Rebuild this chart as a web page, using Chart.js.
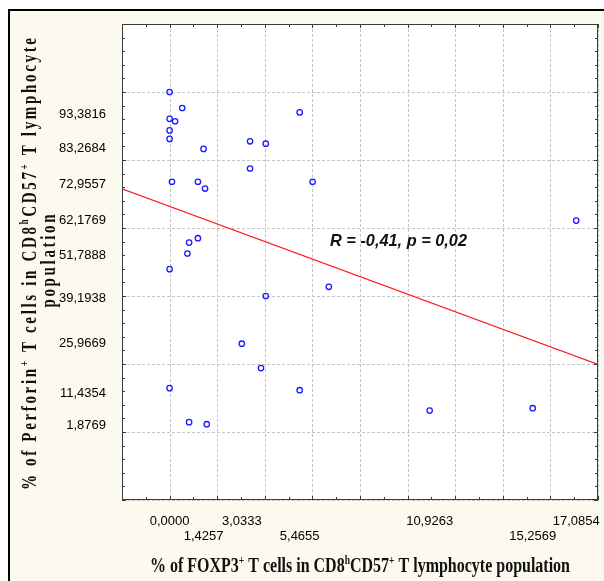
<!DOCTYPE html>
<html>
<head>
<meta charset="utf-8">
<script src="https://cdn.jsdelivr.net/npm/chart.js@4.4.0/dist/chart.umd.min.js"></script>
<style>
  html, body { margin: 0; padding: 0; background: #fff; }
  #box { width: 604px; height: 581px; }
</style>
</head>
<body>
<div id="box"><canvas id="myChart" width="604" height="581"></canvas></div>
<script>
// % FOXP3+ (x) and % Perforin+ (y) per patient
const foxp3 = [0, 0.53, 0, 0.23, 0, 0, 1.4257, 3.38, 4.04, 5.4655, 3.38, 0.10, 1.19, 1.49, 6.01,
  17.0854, 1.19, 0.82, 0.75, 0, 6.69, 4.04, 3.0333, 3.84, 0, 5.4655, 0.82, 1.56, 10.9263, 15.2569];
const perforin = [100.0, 95.3, 92.1, 91.4, 88.7, 86.2, 83.2684, 85.5, 84.8, 94.0, 77.5, 73.6, 73.6, 71.6, 73.6,
  62.1769, 57.0, 55.7, 52.5, 47.9, 42.7, 40.0, 25.9669, 18.8, 12.9, 12.3, 2.9, 2.3, 6.3, 7.0];

// fitted line at both ends of the x range
const regX = [-2, 18];
const regY = [71.5, 19.9];

// the labelled tick values (statistica style), 1 = upper row, 2 = lower row
const xTickVals = [0, 1.4257, 3.0333, 5.4655, 10.9263, 15.2569, 17.0854];
const xTickRow = [1, 2, 1, 2, 1, 2, 1];
const yTickVals = [1.8769, 11.4354, 25.9669, 39.1938, 51.7888, 62.1769, 72.9557, 83.2684, 93.3816];

const xMin = -2, xMax = 18, xStep = 2, xMinor = 1;
const yMin = -20, yMax = 120, yStep = 20, yMinor = 4;

const rText = "R = -0,41, p = 0,02";

const fmt = (v) => v.toFixed(4).replace(".", ",");
const steps = (a, b, s) => { const r = []; for (let i = 0; i <= Math.round((b - a) / s); i++) r.push(a + i * s); return r; };
const merge = (a, b) => [...new Set([...a, ...b])].sort((p, q) => p - q).map((v) => ({ value: v }));
const xGrid = steps(xMin, xMax, xStep);
const yGrid = steps(yMin, yMax, yStep);

const tickFont = { family: '"Liberation Sans", Arial, sans-serif', size: 13, lineHeight: 1.15 };
const serif = '"Liberation Serif", "Times New Roman", serif';
const sans = '"Liberation Sans", Arial, sans-serif';

// lay text out char by char (with superscripts and letter spacing)
function layoutRich(ctx, parts, size, spacing, family, style) {
  const items = [];
  let w = 0;
  for (const [txt, sup] of parts) {
    const fs = sup ? size * 0.6 : size;
    ctx.font = `${style} ${fs}px ${family}`;
    for (const ch of txt) {
      items.push({ ch, fs, sup, x: w });
      w += ctx.measureText(ch).width + spacing;
    }
  }
  return { items, w: w - spacing };
}
// draw it centred on the origin, baseline 0, squeezed by sx
function drawRich(ctx, lay, size, sx, family, style) {
  ctx.save();
  ctx.scale(sx, 1);
  ctx.translate(-lay.w / 2, 0);
  ctx.textAlign = "left";
  ctx.textBaseline = "alphabetic";
  for (const it of lay.items) {
    ctx.font = `${style} ${it.fs}px ${family}`;
    ctx.fillText(it.ch, it.x, it.sup ? -size * 0.42 : 0);
  }
  ctx.restore();
}

const statPlugin = {
  id: "statPlugin",
  beforeDraw(chart) {
    const ctx = chart.ctx, a = chart.chartArea;
    ctx.save();
    ctx.fillStyle = "#ffffff";
    ctx.fillRect(0, 0, chart.width, chart.height);
    ctx.fillStyle = "#fcf9ee";
    ctx.fillRect(9, 10, chart.width, chart.height);
    ctx.fillStyle = "#000000";
    ctx.fillRect(8, 9, chart.width, 2);
    ctx.fillRect(8, 9, 2, chart.height);
    ctx.fillStyle = "#ffffff";
    ctx.fillRect(a.left, a.top, a.right - a.left, a.bottom - a.top);
    ctx.restore();
  },
  beforeDatasetsDraw(chart) {
    const ctx = chart.ctx, a = chart.chartArea;
    const xs = chart.scales.x, ys = chart.scales.y;
    ctx.save();
    ctx.strokeStyle = "#c4c4c4";
    ctx.lineWidth = 1;
    ctx.setLineDash([3, 2]);
    ctx.beginPath();
    xGrid.forEach((v) => {
      const px = Math.round(xs.getPixelForValue(v)) + 0.5;
      ctx.moveTo(px, a.top); ctx.lineTo(px, a.bottom);
    });
    yGrid.forEach((v) => {
      const py = Math.round(ys.getPixelForValue(v)) + 0.5;
      ctx.moveTo(a.left, py); ctx.lineTo(a.right, py);
    });
    ctx.stroke();
    ctx.restore();
  },
  afterDatasetsDraw(chart) {
    const ctx = chart.ctx, a = chart.chartArea;
    const xs = chart.scales.x, ys = chart.scales.y;
    ctx.save();
    // frame + inward tick marks on all four sides
    ctx.strokeStyle = "#3a3a3a";
    ctx.lineWidth = 1;
    ctx.strokeRect(a.left + 0.5, a.top + 0.5, a.right - a.left - 1, a.bottom - a.top - 1);
    ctx.beginPath();
    steps(xMin, xMax, xMinor).forEach((v, i) => {
      const px = Math.round(xs.getPixelForValue(v)) + 0.5;
      const len = i % (xStep / xMinor) === 0 ? 4 : 3;
      ctx.moveTo(px, a.bottom); ctx.lineTo(px, a.bottom - len);
      ctx.moveTo(px, a.top); ctx.lineTo(px, a.top + len);
    });
    steps(yMin, yMax, yMinor).forEach((v, i) => {
      const py = Math.round(ys.getPixelForValue(v)) + 0.5;
      const len = i % (yStep / yMinor) === 0 ? 4 : 3;
      ctx.moveTo(a.left, py); ctx.lineTo(a.left + len, py);
      ctx.moveTo(a.right, py); ctx.lineTo(a.right - len, py);
    });
    ctx.stroke();

    ctx.fillStyle = "#111";
    // R / p annotation
    const rLay = layoutRich(ctx, [[rText, false]], 17, 0, sans, "italic bold");
    ctx.save();
    ctx.translate(398.5, 246);
    drawRich(ctx, rLay, 17, 137 / rLay.w, sans, "italic bold");
    ctx.restore();

    // x axis title
    const xt = [["% of FOXP3", false], ["+", true], [" T cells in CD8", false], ["h", true],
      ["CD57", false], ["+", true], [" T lymphocyte population", false]];
    const xLay = layoutRich(ctx, xt, 20, 0, serif, "bold");
    ctx.save();
    ctx.translate(360, 572);
    drawRich(ctx, xLay, 20, 420 / xLay.w, serif, "bold");
    ctx.restore();

    // y axis title, two rotated lines
    const y1 = [["% of Perforin", false], ["+", true], [" T cells in CD8", false], ["h", true],
      ["CD57", false], ["+", true], [" T lymphocyte", false]];
    const y1Lay = layoutRich(ctx, y1, 20, 3.5, serif, "bold");
    const y2Lay = layoutRich(ctx, [["population", false]], 20, 3.5, serif, "bold");
    const sy = 452 / y1Lay.w;
    ctx.save();
    ctx.translate(36, 264);
    ctx.rotate(-Math.PI / 2);
    drawRich(ctx, y1Lay, 20, sy, serif, "bold");
    ctx.restore();
    ctx.save();
    ctx.translate(55, 261);
    ctx.rotate(-Math.PI / 2);
    drawRich(ctx, y2Lay, 20, sy, serif, "bold");
    ctx.restore();

    ctx.restore();
  }
};

const ctx = document.getElementById("myChart");
const myChart = new Chart(ctx, {
  type: "scatter",
  data: {
    datasets: [
      {
        label: "patients",
        data: foxp3.map((x, i) => ({ x: x, y: perforin[i] })),
        pointStyle: "circle",
        pointRadius: 2.7,
        borderWidth: 1.3,
        borderColor: "#1a1aff",
        backgroundColor: "rgba(0,0,0,0)",
        order: 1
      },
      {
        type: "line",
        label: "fit",
        data: regX.map((x, i) => ({ x: x, y: regY[i] })),
        borderColor: "#ff2020",
        borderWidth: 1.2,
        pointRadius: 0,
        fill: false,
        order: 2
      }
    ]
  },
  options: {
    responsive: false,
    animation: false,
    events: [],
    layout: { padding: { left: 0, top: 24, right: 6, bottom: 0 } },
    plugins: { legend: { display: false }, tooltip: { enabled: false } },
    scales: {
      x: {
        type: "linear",
        min: xMin,
        max: xMax,
        afterBuildTicks(scale) { scale.ticks = merge(xGrid, xTickVals); },
        afterFit(scale) { scale.height = 81; scale.paddingLeft = 0; scale.paddingRight = 0; },
        grid: { display: false },
        border: { display: false },
        ticks: {
          autoSkip: false,
          maxRotation: 0,
          minRotation: 0,
          padding: 6,
          color: "#000",
          font: tickFont,
          callback(value) {
            const k = xTickVals.indexOf(value);
            if (k < 0) return "";
            return xTickRow[k] === 1 ? [fmt(value)] : ["", fmt(value)];
          }
        }
      },
      y: {
        type: "linear",
        min: yMin,
        max: yMax,
        afterBuildTicks(scale) { scale.ticks = merge(yGrid, yTickVals); },
        afterFit(scale) { scale.width = 122; scale.paddingTop = 0; scale.paddingBottom = 0; },
        grid: { display: false },
        border: { display: false },
        ticks: {
          autoSkip: false,
          padding: 8,
          color: "#000",
          font: tickFont,
          callback(value) {
            return yTickVals.indexOf(value) < 0 ? "" : fmt(value);
          }
        }
      }
    }
  },
  plugins: [statPlugin]
});
myChart;
</script>
</body>
</html>
